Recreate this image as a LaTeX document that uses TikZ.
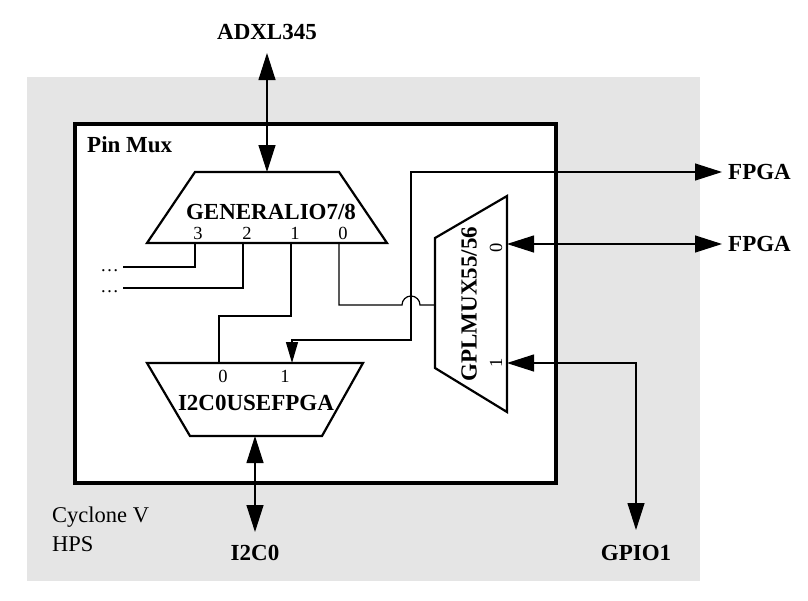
\documentclass[tikz,border=0pt]{standalone}
\usepackage{fontspec}
\setmainfont{Liberation Serif}
\usetikzlibrary{arrows.meta}
\definecolor{hpsgray}{HTML}{E5E5E5}
\begin{document}
\begin{tikzpicture}[x=1pt,y=-1pt,
  bigtip/.tip={Triangle[length=27pt,width=17pt]},
  smalltip/.tip={Triangle[length=21pt,width=12pt]},
  wire/.style={line width=1.2pt},
  muxshape/.style={line width=2.2pt, line join=miter},
  lbl/.style={font=\fontsize{23}{25}\selectfont\bfseries, inner sep=0pt},
  muxlbl/.style={font=\fontsize{23}{25}\selectfont\bfseries, inner sep=0pt},
  portlbl/.style={font=\fontsize{18.5}{20}\selectfont, inner sep=0pt},
  plaintext/.style={font=\fontsize{22.5}{25}\selectfont, inner sep=0pt}]
\useasboundingbox (0,0) rectangle (808,600);
% HPS background
\fill[hpsgray] (27,77) rectangle (700,581);
\node[plaintext, anchor=base west] (cyc) at (52,522) {Cyclone V};
\node[plaintext, anchor=base west] (hps) at (52,551) {HPS};
% Pin Mux box
\draw[line width=4pt, fill=white] (75,124) rectangle (556,483);
\node[lbl, anchor=base west] (pinmux) at (87,152) {Pin Mux};
% GENERALIO7/8 mux
\coordinate (gTL) at (195,172); \coordinate (gTR) at (339,172);
\coordinate (gBR) at (387,243); \coordinate (gBL) at (147,243);
\coordinate (gTop) at (267,172);
\coordinate (g3) at (195,243); \coordinate (g2) at (243,243);
\coordinate (g1) at (291,243); \coordinate (g0) at (339,243);
% I2C0USEFPGA mux
\coordinate (iTL) at (147,363); \coordinate (iTR) at (363,363);
\coordinate (iBR) at (322,436); \coordinate (iBL) at (190,436);
\coordinate (i0) at (219,363); \coordinate (i1) at (292,363);
\coordinate (iBot) at (255,436);
% GPLMUX55/56 mux
\coordinate (pTL) at (435,238); \coordinate (pTR) at (507,196);
\coordinate (pBR) at (507,412); \coordinate (pBL) at (435,368);
\coordinate (pIn) at (435,305);
\coordinate (p0) at (507,244); \coordinate (p1) at (507,363);
% outer labels
\node[lbl] (adxl) at (267,32) {ADXL345};
\node[lbl, anchor=west] (fpgaA) at (728,172) {FPGA};
\node[lbl, anchor=west] (fpgaB) at (728,244) {FPGA};
\node[lbl] (i2c) at (255,553) {I2C0};
\node[lbl] (gpio) at (636,553) {GPIO1};
\coordinate (adxlEnd) at (267,53);
\coordinate (i2cEnd) at (255,532);
\coordinate (gpioEnd) at (636,530);
\coordinate (fpgaAEnd) at (722,172);
\coordinate (fpgaBEnd) at (722,244);
% dots
\node[portlbl, anchor=base east] (d3) at (119,271) {…};
\node[portlbl, anchor=base east] (d2) at (119,292) {…};
% wires
\draw[wire] (g3) |- (123,267);
\draw[wire] (g2) |- (123,288);
\draw[wire] (g1) -- (291,316) -| (i0);
\draw[wire] (g0) |- (402,305) arc[start angle=180, end angle=0, radius=9pt] -- (pIn);
\draw[wire, {smalltip}-{bigtip}] (i1) |- (411,340) |- (fpgaAEnd);
\draw[wire, {bigtip}-{bigtip}] (p0) -- (fpgaBEnd);
\draw[wire, {bigtip}-{bigtip}] (p1) -| (gpioEnd);
\draw[wire, {bigtip}-{bigtip}] (adxlEnd) -- (gTop);
\draw[wire, {bigtip}-{bigtip}] (iBot) -- (i2cEnd);
% mux shapes
\draw[muxshape] (gTL) -- (gTR) -- (gBR) -- (gBL) -- cycle;
\draw[muxshape] (iTL) -- (iTR) -- (iBR) -- (iBL) -- cycle;
\draw[muxshape] (pTL) -- (pTR) -- (pBR) -- (pBL) -- cycle;
% mux labels
\node[muxlbl] (gname) at (271,212) {GENERALIO7/8};
\node[portlbl] (gl3) at (198,233) {3};
\node[portlbl] (gl2) at (247,233) {2};
\node[portlbl] (gl1) at (295,233) {1};
\node[portlbl] (gl0) at (343,233) {0};
\node[muxlbl] (iname) at (256,403) {I2C0USEFPGA};
\node[portlbl] (il0) at (223,376) {0};
\node[portlbl] (il1) at (285,376) {1};
\node[muxlbl, rotate=90] (pname) at (469,304) {GPLMUX55/56};
\node[portlbl, rotate=90] (pl0) at (496,248) {0};
\node[portlbl, rotate=90] (pl1) at (496,363) {1};
\end{tikzpicture}
\end{document}
